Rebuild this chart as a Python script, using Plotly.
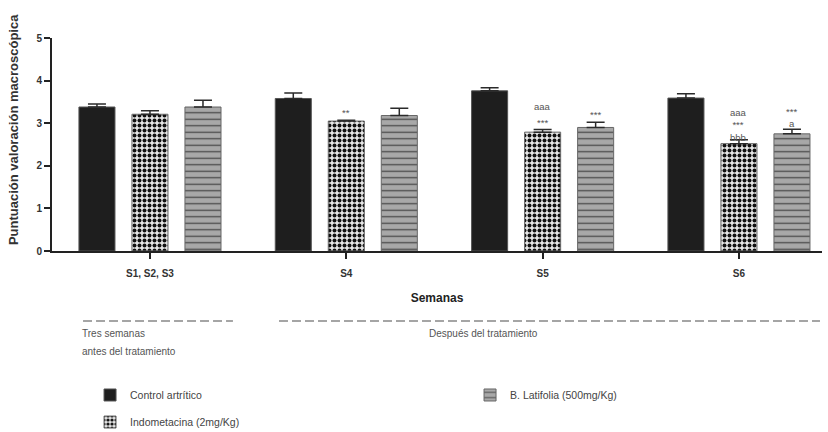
import plotly.graph_objects as go

# ---- data ----
groups = ["S1, S2, S3", "S4", "S5", "S6"]
control = [3.38, 3.58, 3.76, 3.59]
control_err = [0.07, 0.13, 0.07, 0.10]
indometacina = [3.21, 3.05, 2.79, 2.52]
indometacina_err = [0.08, 0.02, 0.06, 0.09]
latifolia = [3.38, 3.18, 2.90, 2.75]
latifolia_err = [0.16, 0.17, 0.12, 0.11]

# significance labels (per group)
indo_stars = ["", "**", "***", "***"]
indo_a = ["", "", "aaa", "aaa"]
indo_b = ["", "", "", "bbb"]
lati_stars = ["", "", "***", "***"]
lati_a = ["", "", "", "a"]

names = ["Control artrítico", "Indometacina (2mg/Kg)", "B. Latifolia (500mg/Kg)"]
y_title = "Puntuación valoración macroscópica"
x_title = "Semanas"

FONT = "Liberation Sans, Arial, sans-serif"
xs = list(range(len(groups)))
bargap = 0.19
slot = (1 - bargap) / 3

def err(vals):
    return dict(type="data", symmetric=False, array=vals, arrayminus=[0] * len(vals),
                color="#2a2a2a", thickness=1.5, width=9)

fig = go.Figure()
fig.add_trace(go.Bar(
    x=xs, y=control, name=names[0], error_y=err(control_err),
    marker=dict(color="#1e1e1e", line=dict(color="#555", width=1)),
    legend="legend", legendrank=1))
fig.add_trace(go.Bar(
    x=xs, y=indometacina, name=names[1], error_y=err(indometacina_err),
    marker=dict(color="#e6e6e6", line=dict(color="#666", width=1),
                pattern=dict(shape=".", fgcolor="#111", bgcolor="#e6e6e6",
                             size=5, solidity=0.5, fillmode="replace")),
    legend="legend2", legendrank=3))
fig.add_trace(go.Bar(
    x=xs, y=latifolia, name=names[2], error_y=err(latifolia_err),
    marker=dict(color="#a6a6a6", line=dict(color="#666", width=1),
                pattern=dict(shape="-", fgcolor="#4a4a4a", bgcolor="#a8a8a8",
                             size=6.5, solidity=0.2, fillmode="replace")),
    legend="legend", legendrank=2))

annotations = []
def sig(x, base, lines, shift):
    lines = [t for t in lines if t]
    if lines:
        annotations.append(dict(x=x, y=base, xref="x", yref="y", text="<br>".join(lines),
                                showarrow=False, yanchor="bottom", yshift=shift,
                                font=dict(family=FONT, size=9.5, color="#555")))

for i in xs:
    top_i = indometacina[i] + indometacina_err[i]
    top_l = latifolia[i] + latifolia_err[i]
    if i == 1:
        sig(i, top_i, [indo_stars[i]], 0)
    elif i == 2:
        sig(i, top_i, [indo_stars[i]], 0)
        sig(i, top_i, [indo_a[i]], 16)
        sig(i + slot, top_l, [lati_stars[i]], 0)
    elif i == 3:
        sig(i, top_i, [indo_a[i], indo_stars[i], indo_b[i]], -5)
        sig(i + slot, top_l, [lati_stars[i], lati_a[i]], -2)

txt = dict(family=FONT, size=10, color="#555")
annotations += [
    dict(x=-0.0506, y=0.568, xref="paper", yref="paper", text=y_title, textangle=-90,
         showarrow=False, xanchor="center", yanchor="middle",
         font=dict(family=FONT, size=13, color="#333", weight="bold")),
    dict(x=0.0364, y=-0.385, xref="paper", yref="paper", text="Tres semanas",
         showarrow=False, xanchor="left", yanchor="middle", font=txt),
    dict(x=0.0364, y=-0.47, xref="paper", yref="paper", text="antes del tratamiento",
         showarrow=False, xanchor="left", yanchor="middle", font=txt),
    dict(x=0.561, y=-0.385, xref="paper", yref="paper", text="Después del tratamiento",
         showarrow=False, xanchor="center", yanchor="middle", font=txt),
]

dash = dict(color="#888", width=1.5, dash="9px,4px")
shapes = [
    dict(type="line", xref="paper", yref="paper", x0=0.0403, x1=0.235, y0=-0.3286, y1=-0.3286, line=dash),
    dict(type="line", xref="paper", yref="paper", x0=0.2948, x1=0.9974, y0=-0.3286, y1=-0.3286, line=dash),
]

legend_font = dict(family=FONT, size=10.5, color="#444")
fig.update_layout(
    width=828, height=432,
    margin=dict(l=52, r=6, t=38, b=181, autoexpand=False),
    paper_bgcolor="white", plot_bgcolor="white",
    barmode="group", bargap=bargap, bargroupgap=0.32,
    font=dict(family=FONT, color="#333"),
    annotations=annotations, shapes=shapes,
    legend=dict(orientation="h", x=0.0494, xanchor="left", y=-0.676, yanchor="middle",
                entrywidth=335, entrywidthmode="pixels", font=legend_font,
                bgcolor="rgba(0,0,0,0)", traceorder="normal"),
    legend2=dict(orientation="h", x=0.0494, xanchor="left", y=-0.803, yanchor="middle",
                 font=legend_font, bgcolor="rgba(0,0,0,0)"),
    xaxis=dict(range=[-0.499, 3.423], tickvals=xs, ticktext=groups,
               showgrid=False, zeroline=False, showline=True, linecolor="#222", linewidth=2,
               ticks="outside", ticklen=6, tickwidth=1.5, tickcolor="#222",
               ticklabelstandoff=6,
               tickfont=dict(family=FONT, size=10, color="#333", weight="bold"),
               title=dict(text=x_title, standoff=16,
                          font=dict(family=FONT, size=12, color="#222", weight="bold"))),
    yaxis=dict(range=[0, 5], tickvals=[0, 1, 2, 3, 4, 5], showgrid=False, zeroline=False,
               showline=True, linecolor="#222", linewidth=2,
               ticks="outside", ticklen=6, tickwidth=1.5, tickcolor="#222",
               tickfont=dict(family=FONT, size=10, color="#333", weight="bold")),
)

fig.write_html("out.html", config={"displayModeBar": False},
               post_script="document.body.style.margin='0px';")
